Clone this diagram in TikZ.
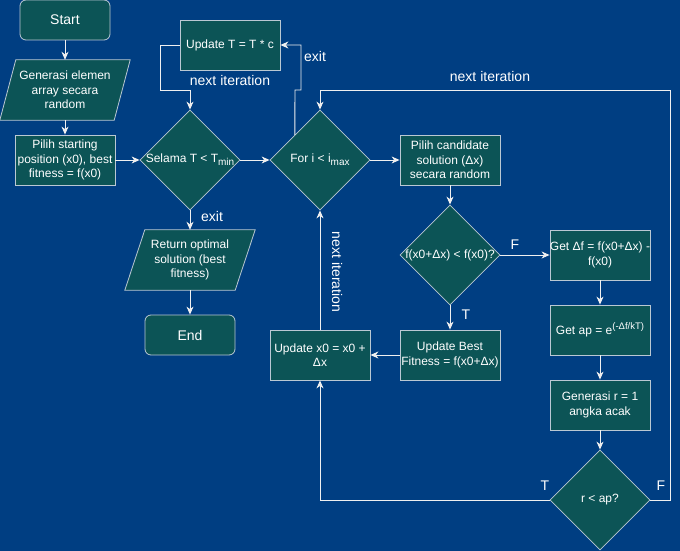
\documentclass[tikz,border=0pt]{standalone}
\usepackage{fontspec}
\setmainfont{Liberation Sans}
\usetikzlibrary{shapes.geometric,arrows.meta,calc}
\pgfdeclarelayer{bg}
\pgfdeclarelayer{background}
\pgfsetlayers{bg,background,main}
\definecolor{bgblue}{RGB}{0,62,130}
\definecolor{nodefill}{RGB}{12,84,86}
\definecolor{nodeline}{RGB}{186,200,211}
\definecolor{linecol}{RGB}{240,240,240}
\newcommand{\mysub}[1]{\raisebox{-0.45ex}{\fontsize{10}{12}\selectfont #1}}
\newcommand{\mysup}[1]{\raisebox{0.75ex}{\fontsize{9.5}{11}\selectfont #1}}
\tikzset{
  nodefont/.style={font=\fontsize{12}{14.5}\selectfont},
  base/.style={fill=nodefill, draw=nodeline, line width=0.8pt, text=white, nodefont, align=center, inner sep=1pt},
  procbox/.style={base, rectangle, minimum width=100pt, minimum height=50pt, inner xsep=0pt},
  termbox/.style={base, rounded corners=6pt, minimum width=90pt, minimum height=40pt, font=\fontsize{14}{16}\selectfont},
  decbox/.style={base, diamond, minimum width=100pt, minimum height=100pt, inner sep=0pt, aspect=1},
  ioframe/.style={minimum width=130pt, minimum height=60pt, inner sep=0pt, text=white, nodefont, align=center},
  ioshape/.style={fill=nodefill, draw=nodeline, line width=0.8pt},
  txt/.style={text=white, nodefont, inner sep=0pt, align=center},
  lbl/.style={text=white, font=\fontsize{14}{16}\selectfont, inner sep=0pt},
  conn/.style={draw=linecol, line width=0.9pt, -{Stealth[length=8pt,width=7pt,inset=2.5pt]}},
}
\begin{document}
\begin{tikzpicture}[x=1pt,y=-1pt]
\begin{pgfonlayer}{bg}
\fill[bgblue] (0,0) rectangle (680,551);
\end{pgfonlayer}
\useasboundingbox (0,0) rectangle (680,551);

% left column
\node[termbox] (start) at (65,20) {Start};
\node[ioframe] (gen) at (65,90) {Generasi elemen\\array secara\\random};
\node[procbox] (pilih) at (65,160) {Pilih starting\\position (x0), best\\fitness = f(x0)};

% outer loop
\node[decbox] (selama) at (190,160) {};
\node[txt] (selamaT) at (190,160) {Selama T < T\mysub{min}};
\node[procbox] (updT) at (230,45) {Update T = T * c};
\node[ioframe] (ret) at (190,260) {Return optimal\\solution (best\\fitness)};
\node[termbox] (end) at (190,335) {End};

% inner loop
\node[decbox] (for) at (320,160) {};
\node[txt] (forT) at (320,160) {For i < i\mysub{max}};
\node[procbox] (cand) at (450,160) {Pilih candidate\\solution (Δx)\\secara random};
\node[decbox] (fcmp) at (450,255) {};
\node[txt] (fcmpT) at (450,255) {f(x0+Δx) < f(x0)?};
\node[procbox] (getdf) at (600,255) {Get Δf = f(x0+Δx) -\\f(x0)};
\node[procbox] (getap) at (600,330) {Get ap = e\mysup{(-Δf/kT)}};
\node[procbox] (genr) at (600,405) {Generasi r = 1\\angka acak};
\node[decbox] (rap) at (600,500) {};
\node[txt] (rapT) at (600,500) {r < ap?};
\node[procbox] (best) at (450,355) {Update Best\\Fitness = f(x0+Δx)};
\node[procbox] (upx) at (320,355) {Update x0 = x0 +\\Δx};

% parallelogram outlines
\begin{pgfonlayer}{background}
\draw[ioshape] ([xshift=16pt]gen.north west) -- (gen.north east) -- ([xshift=-16pt]gen.south east) -- (gen.south west) -- cycle;
\draw[ioshape] ([xshift=20pt]ret.north west) -- (ret.north east) -- ([xshift=-20pt]ret.south east) -- (ret.south west) -- cycle;
\end{pgfonlayer}

% helper coordinates
\coordinate (nB) at (160,90);
\coordinate (nC) at (190,90);
\coordinate (exA) at ($(for.west)!0.5!(for.north)$);
\coordinate (exB) at (295,90);
\coordinate (exC) at (301,90);
\coordinate (loopR) at (670,500);
\coordinate (loopTop) at (320,90);

% connectors
\draw[conn] (start.south) -- (gen.north);
\draw[conn] (gen.south) -- (pilih.north);
\draw[conn] (pilih.east) -- (selama.west);
\draw[conn] (selama.east) -- (for.west);
\draw[conn] (for.east) -- (cand.west);
\draw[conn] (cand.south) -- (fcmp.north);
\draw[conn] (fcmp.east) -- (getdf.west);
\draw[conn] (fcmp.south) -- (best.north);
\draw[conn] (best.west) -- (upx.east);
\draw[conn] (upx.north) -- (for.south);
\draw[conn] (getdf.south) -- (getap.north);
\draw[conn] (getap.south) -- (genr.north);
\draw[conn] (genr.south) -- (rap.north);
\draw[conn] (rap.west) -| (upx.south);
\draw[conn] (rap.east) -- (loopR) |- (loopTop) -- (for.north);
\draw[conn] (updT.west) -| (nB) -- (nC) -- (selama.north);
\draw[conn] (exA) -- (exB) -- (exC) |- (updT.east);
\draw[conn] (selama.south) -- (ret.north);
\draw[conn] (ret.south) -- (end.north);

% labels
\node[lbl] (lNI1) at (230,80) {next iteration};
\node[lbl] (lNI2) at (490,76) {next iteration};
\node[lbl, rotate=-90] (lNI3) at (337,272) {next iteration};
\node[lbl] (lEx1) at (315,56) {exit};
\node[lbl] (lEx2) at (212,216) {exit};
\node[lbl] (lF1) at (515,245) {F};
\node[lbl] (lT1) at (466,315) {T};
\node[lbl] (lT2) at (545,486) {T};
\node[lbl] (lF2) at (661,486) {F};
\end{tikzpicture}
\end{document}
